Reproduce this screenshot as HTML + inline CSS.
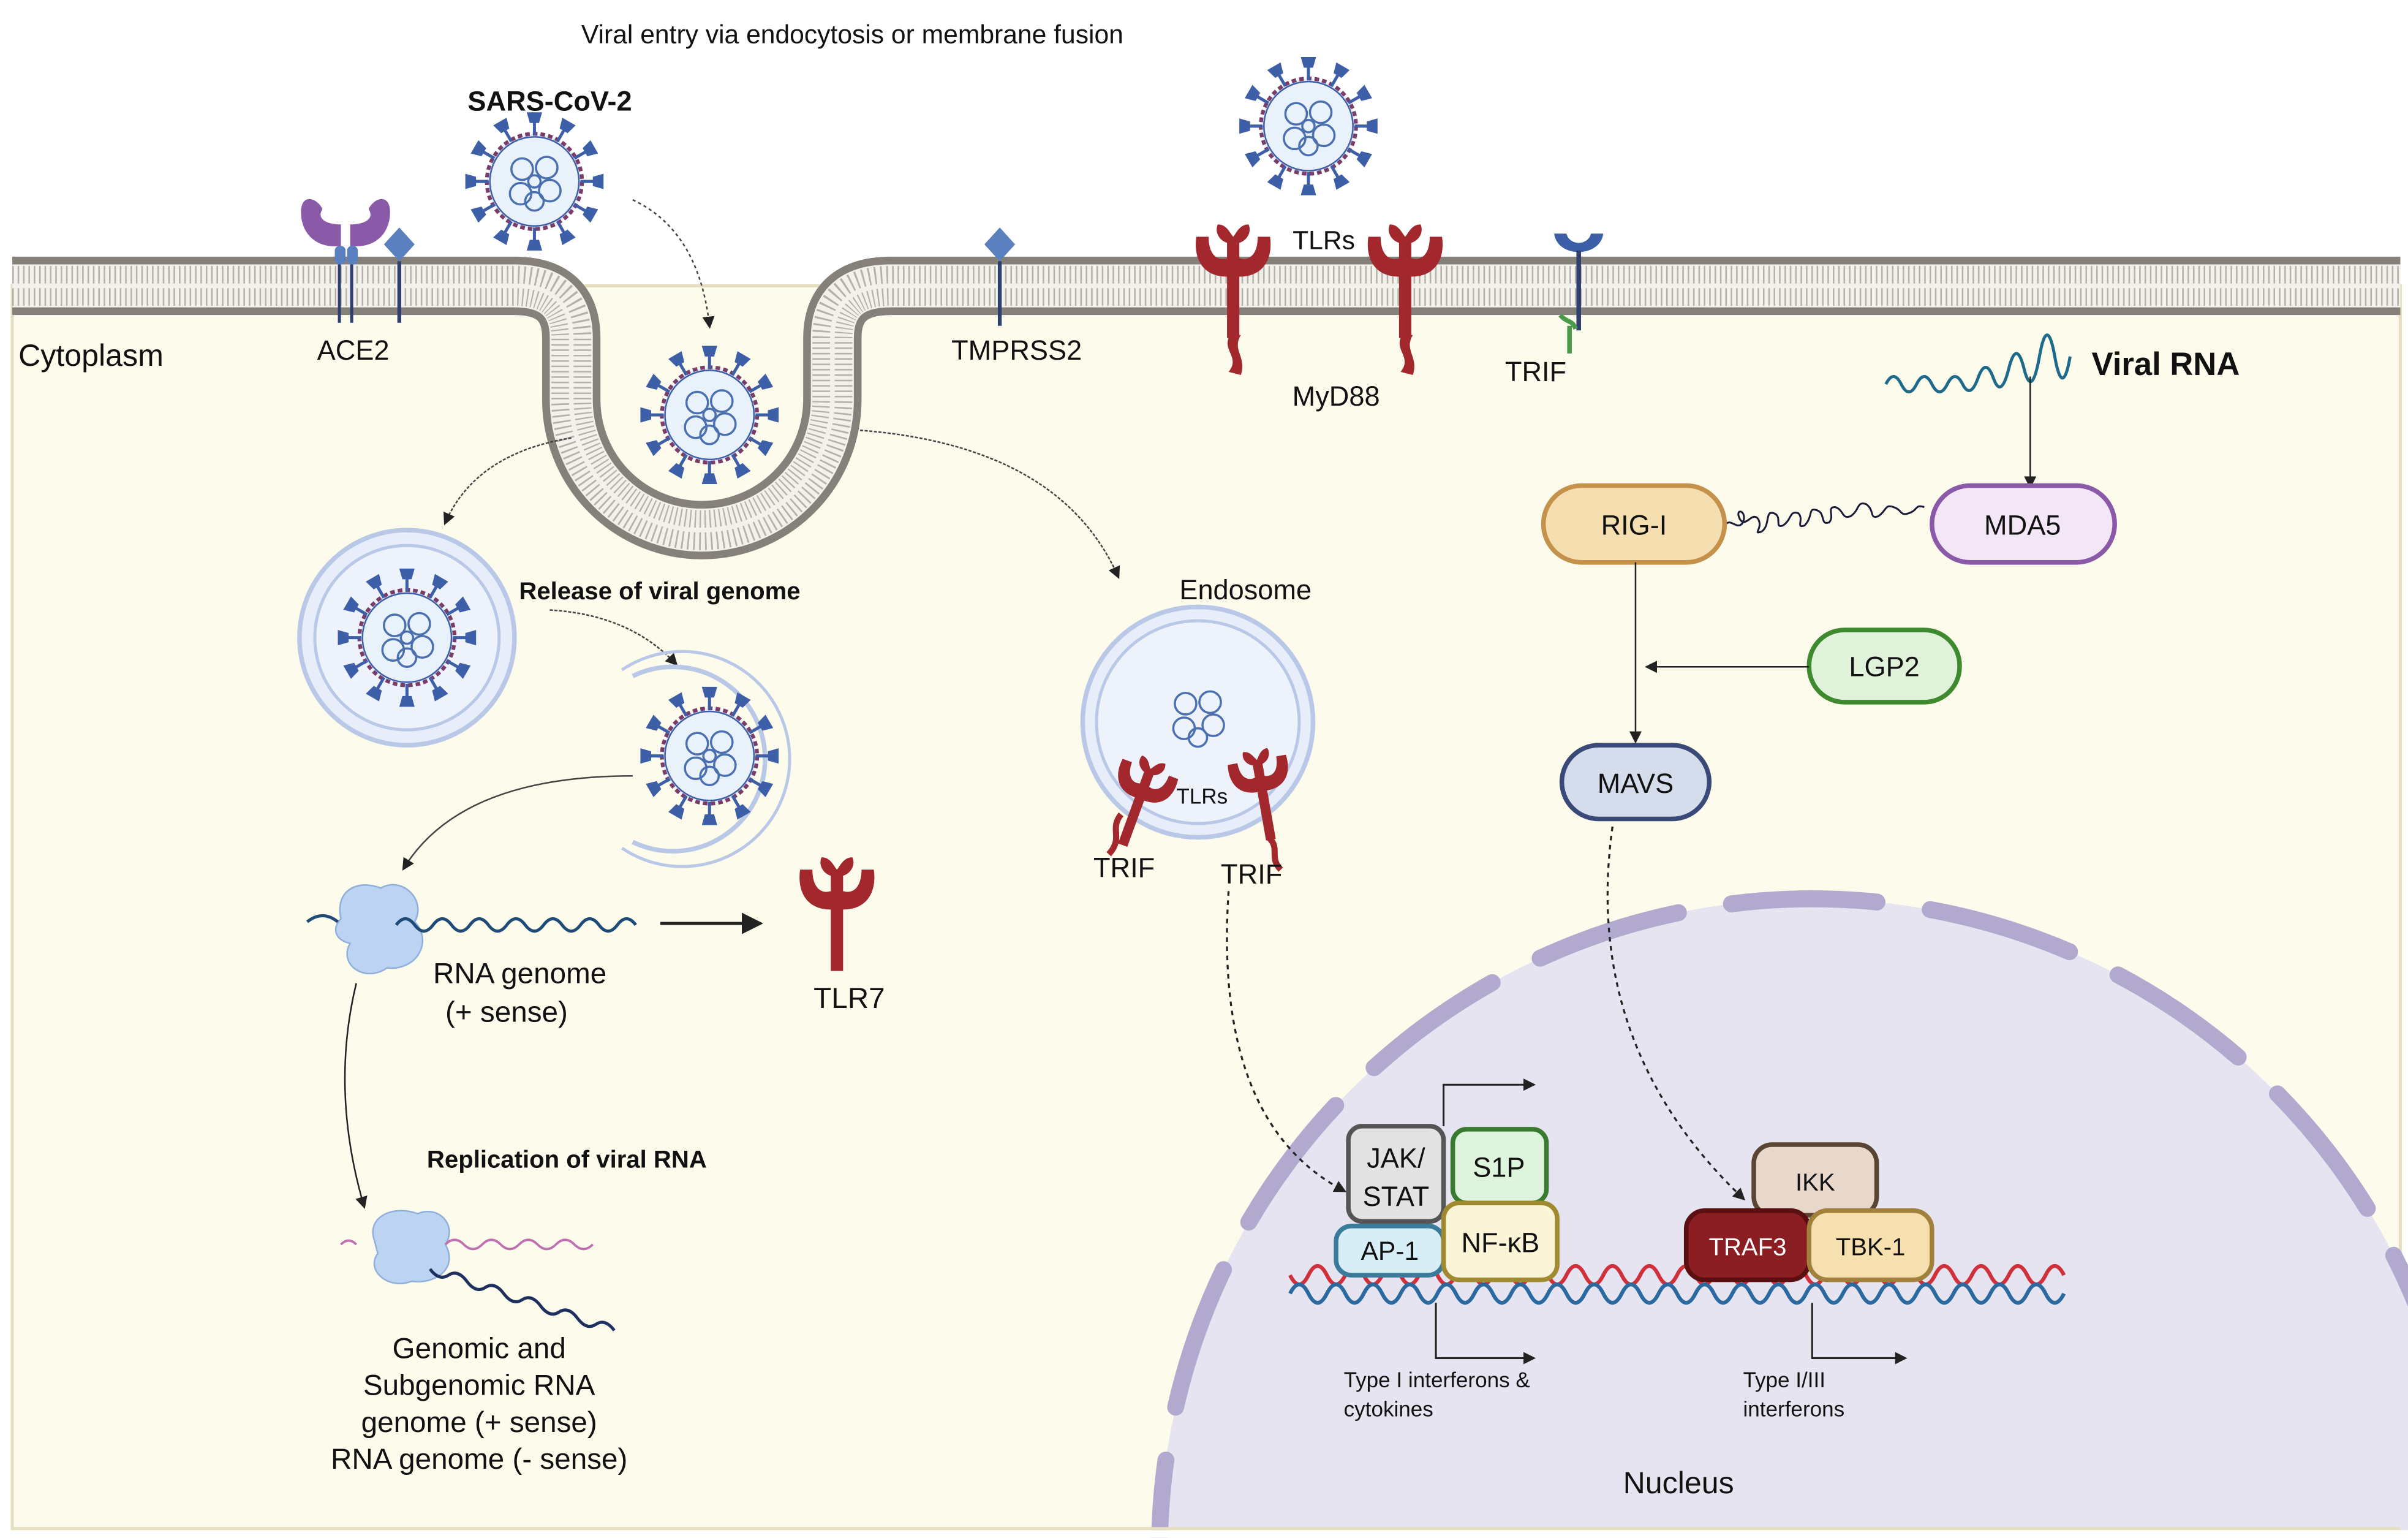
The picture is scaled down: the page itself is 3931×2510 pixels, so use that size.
<!DOCTYPE html>
<html><head><meta charset="utf-8"><style>
html,body{margin:0;padding:0;background:#fff;width:3931px;height:2510px;overflow:hidden;}
svg{display:block;}
text{font-family:"Liberation Sans",sans-serif;fill:#111;}
</style></head><body>
<svg width="3931" height="2510" viewBox="0 0 1568 1001" xmlns="http://www.w3.org/2000/svg">
<defs>
<marker id="ah" markerWidth="8" markerHeight="8" refX="6" refY="4" orient="auto" markerUnits="userSpaceOnUse"><path d="M0,0 L8,4 L0,8 z" fill="#222"/></marker>
<marker id="ahb" markerWidth="14" markerHeight="14" refX="12" refY="7" orient="auto" markerUnits="userSpaceOnUse"><path d="M0,0 L14,7 L0,14 z" fill="#222"/></marker>
<g id="spike"><line x1="0" y1="-30" x2="0" y2="-40" stroke="#3d5fa8" stroke-width="2"/><path d="M-5,-45 L5,-45 L3,-38 L-3,-38 z" fill="#3d5fa8"/></g>
<g id="virus">
<circle r="31" fill="#e9f1fb" stroke="#7a3d6a" stroke-width="2.5" stroke-dasharray="3 2"/>
<circle r="29" fill="none" stroke="#3d5fa8" stroke-width="1"/>
<use href="#spike" transform="rotate(0)"/><use href="#spike" transform="rotate(30)"/><use href="#spike" transform="rotate(60)"/><use href="#spike" transform="rotate(90)"/><use href="#spike" transform="rotate(120)"/><use href="#spike" transform="rotate(150)"/><use href="#spike" transform="rotate(180)"/><use href="#spike" transform="rotate(210)"/><use href="#spike" transform="rotate(240)"/><use href="#spike" transform="rotate(270)"/><use href="#spike" transform="rotate(300)"/><use href="#spike" transform="rotate(330)"/>
<g fill="none" stroke="#4a70b0" stroke-width="1.4">
<circle cx="-8" cy="-8" r="7"/><circle cx="8" cy="-9" r="7"/><circle cx="10" cy="6" r="7"/><circle cx="-9" cy="8" r="7"/><circle cx="0" cy="13" r="6"/><circle cx="0" cy="0" r="4"/>
</g></g>
<g id="tlr"><path d="M-4,40 L-4,0 C-20,0 -26,-12 -24,-26 L-16,-26 C-16,-14 -10,-10 -4,-12 L-4,-22 C-10,-24 -12,-30 -10,-34 C-4,-34 -2,-28 0,-26 C2,-28 4,-34 10,-34 C12,-30 10,-24 4,-22 L4,-12 C10,-10 16,-14 16,-26 L24,-26 C26,-12 20,0 4,0 L4,40 z" fill="#a3282e"/></g>
</defs>

<rect x="8" y="186" width="1555" height="809" fill="#fdfbec" stroke="#e6dfbf" stroke-width="2"/>
<path d="M8,186 H335 Q372,186 372,220 L372,260 A85,85 0 0 0 542,260 L542,220 Q542,186 580,186 H1563" fill="none" stroke="#858079" stroke-width="38"/>
<path d="M8,186 H335 Q372,186 372,220 L372,260 A85,85 0 0 0 542,260 L542,220 Q542,186 580,186 H1563" fill="none" stroke="#f3f1ec" stroke-width="28"/>
<path d="M8,186 H335 Q372,186 372,220 L372,260 A85,85 0 0 0 542,260 L542,220 Q542,186 580,186 H1563" fill="none" stroke="#b5b0a9" stroke-width="26" stroke-dasharray="1 2.5"/>
<path d="M8,186 H335 Q372,186 372,220 L372,260 A85,85 0 0 0 542,260 L542,220 Q542,186 580,186 H1563" fill="none" stroke="#f3f1ec" stroke-width="3"/>

<circle cx="1180" cy="1010" r="425" fill="#e7e4f1"/>
<circle cx="1180" cy="1010" r="425" fill="none" stroke="#b2a9cf" stroke-width="11" stroke-dasharray="95 35" stroke-linecap="round"/>
<rect x="0" y="996" width="1568" height="5" fill="#fff"/>
<line x1="8" y1="995" x2="1563" y2="995" stroke="#e6dfbf" stroke-width="2"/>

<text x="555" y="28" font-size="17" text-anchor="middle">Viral entry via endocytosis or membrane fusion</text>
<text x="358" y="72" font-size="18" font-weight="bold" text-anchor="middle">SARS-CoV-2</text>
<text x="12" y="238" font-size="20">Cytoplasm</text>
<text x="230" y="234" font-size="18" text-anchor="middle">ACE2</text>
<text x="662" y="234" font-size="18" text-anchor="middle">TMPRSS2</text>
<text x="862" y="162" font-size="17" text-anchor="middle">TLRs</text>
<text x="870" y="264" font-size="18" text-anchor="middle">MyD88</text>
<text x="1000" y="248" font-size="18" text-anchor="middle">TRIF</text>

<use href="#virus" transform="translate(348,118)"/>
<use href="#virus" transform="translate(852,82)"/>
<use href="#virus" transform="translate(462,270)"/>

<path d="M196,138 C196,126 206,128 210,136 C206,142 212,146 222,146 L222,160 C206,162 196,152 196,138 z" fill="#8a5aa8"/>
<path d="M254,138 C254,126 244,128 240,136 C244,142 238,146 228,146 L228,160 C244,162 254,152 254,138 z" fill="#8a5aa8"/>
<rect x="218" y="160" width="7" height="12" rx="3" fill="#5a80c0"/><rect x="226" y="160" width="7" height="12" rx="3" fill="#5a80c0"/>
<line x1="221" y1="172" x2="221" y2="210" stroke="#2e3f70" stroke-width="2"/><line x1="229" y1="172" x2="229" y2="210" stroke="#2e3f70" stroke-width="2"/>
<path d="M260,148 L270,159 L260,170 L250,159 z" fill="#5a80c0"/><line x1="260" y1="170" x2="260" y2="210" stroke="#2e3f70" stroke-width="2.5"/>
<path d="M651,148 L661,159 L651,170 L641,159 z" fill="#5a80c0"/><line x1="651" y1="170" x2="651" y2="212" stroke="#2e3f70" stroke-width="2.5"/>
<use href="#tlr" transform="translate(803,180)"/>
<path d="M801,218 C795,228 808,232 800,242 L808,244 C812,232 802,228 808,218 z" fill="#a3282e"/>
<use href="#tlr" transform="translate(915,180)"/>
<path d="M913,218 C907,228 920,232 912,242 L920,244 C924,232 914,228 920,218 z" fill="#a3282e"/>
<path d="M1012,152 C1014,168 1042,168 1044,152 L1036,152 C1034,160 1022,160 1020,152 z" fill="#3d5fa8"/>
<line x1="1028" y1="163" x2="1028" y2="215" stroke="#2e3f70" stroke-width="3"/>
<path d="M1022,212 L1022,230 M1016,205 C1020,210 1024,208 1026,214" stroke="#4a9a4a" stroke-width="3" fill="none"/>

<path d="M412,130 Q455,150 462,212" fill="none" stroke="#444" stroke-width="1" stroke-dasharray="2 2" marker-end="url(#ah)"/>
<path d="M372,285 Q310,295 290,340" fill="none" stroke="#444" stroke-width="1" stroke-dasharray="2 1" marker-end="url(#ah)"/>
<path d="M560,280 Q690,290 728,375" fill="none" stroke="#444" stroke-width="1" stroke-dasharray="2 1" marker-end="url(#ah)"/>

<circle cx="265" cy="415" r="70" fill="#e8eef9" stroke="#b8c8e6" stroke-width="3"/>
<circle cx="265" cy="415" r="60" fill="#edf2fb" stroke="#b8c8e6" stroke-width="2"/>
<use href="#virus" transform="translate(265,415)"/>
<text x="338" y="390" font-size="16" font-weight="bold">Release of viral genome</text>
<path d="M358,397 Q410,400 440,432" fill="none" stroke="#444" stroke-width="1" stroke-dasharray="2 1" marker-end="url(#ah)"/>
<path d="M412,440 A60,60 0 1 1 412,548" fill="none" stroke="#b8c8e6" stroke-width="3"/>
<path d="M405,436 A70,70 0 1 1 405,552" fill="none" stroke="#b8c8e6" stroke-width="2"/>
<use href="#virus" transform="translate(462,492)"/>
<path d="M412,505 Q300,505 263,565" fill="none" stroke="#444" stroke-width="1" marker-end="url(#ah)"/>

<path d="M222,598 C218,580 232,572 248,578 C262,570 278,586 270,600 C282,612 272,632 252,630 C238,640 220,628 228,614 C218,612 216,604 222,598 z" fill="#bcd4f2" stroke="#8eb0dc" stroke-width="1"/>
<path d="M200,600 Q210,592 220,600 M258,602 q6,-8 12,0 t12,0 t12,0 t12,0 t12,0 t12,0 t12,0 t12,0 t12,0 t12,0 t12,0 t12,0 t12,0" fill="none" stroke="#1e4a78" stroke-width="2"/>
<path d="M430,601 L495,601" stroke="#222" stroke-width="2" marker-end="url(#ahb)"/>
<use href="#tlr" transform="translate(545,592)"/>
<text x="553" y="656" font-size="19" text-anchor="middle">TLR7</text>
<text x="282" y="640" font-size="19">RNA genome</text>
<text x="290" y="665" font-size="19">(+ sense)</text>
<path d="M232,640 Q215,710 237,785" fill="none" stroke="#222" stroke-width="1" marker-end="url(#ah)"/>
<text x="278" y="760" font-size="16" font-weight="bold">Replication of viral RNA</text>
<path d="M244,808 C238,792 256,784 272,790 C286,784 298,798 290,810 C298,824 286,836 268,834 C252,840 238,826 246,816 z" fill="#bcd4f2" stroke="#8eb0dc" stroke-width="1"/>
<path d="M222,810 q5,-5 10,0 M290,810 q6,-6 12,0 t12,0 t12,0 t12,0 t12,0 t12,0 t12,0 t12,0" fill="none" stroke="#c070b0" stroke-width="1.5"/>
<path d="M280,826 q6,8 12,4 t12,4 t12,4 t12,4 t12,4 t12,4 t12,4 t12,4 t12,4 t12,4" fill="none" stroke="#1e3060" stroke-width="2"/>
<g font-size="19" text-anchor="middle">
<text x="312" y="884">Genomic and</text><text x="312" y="908">Subgenomic RNA</text><text x="312" y="932">genome (+ sense)</text><text x="312" y="956">RNA genome (- sense)</text></g>

<text x="768" y="390" font-size="18">Endosome</text>
<circle cx="780" cy="470" r="75" fill="#e8eef9" stroke="#b8c8e6" stroke-width="3"/>
<circle cx="780" cy="470" r="66" fill="#edf2fb" stroke="#b8c8e6" stroke-width="2"/>
<g fill="none" stroke="#4a70b0" stroke-width="1.4"><circle cx="772" cy="458" r="7"/><circle cx="788" cy="457" r="7"/><circle cx="790" cy="472" r="7"/><circle cx="771" cy="474" r="7"/><circle cx="780" cy="480" r="6"/></g>
<use href="#tlr" transform="translate(742,520) rotate(20) scale(0.8)"/>
<path d="M730,530 C722,540 732,545 722,556" stroke="#a3282e" stroke-width="4" fill="none"/>
<use href="#tlr" transform="translate(822,515) rotate(-10) scale(0.8)"/>
<path d="M826,545 C834,552 826,558 834,566" stroke="#a3282e" stroke-width="4" fill="none"/>
<text x="766" y="523" font-size="14">TLRs</text>
<text x="712" y="571" font-size="18">TRIF</text>
<text x="795" y="575" font-size="18">TRIF</text>
<path d="M800,580 Q790,730 875,775" fill="none" stroke="#222" stroke-width="1.3" stroke-dasharray="3 3" marker-end="url(#ah)"/>

<path d="M1228,250 q5,-10 10,0 t10,0 t10,0 t10,0 t10,0 t10,-4 t10,0 t10,-6 t10,0 t10,-8 t10,0 t10,0" fill="none" stroke="#1e6a8a" stroke-width="2"/>
<text x="1362" y="244" font-size="21" font-weight="bold">Viral RNA</text>
<line x1="1322" y1="245" x2="1322" y2="316" stroke="#222" stroke-width="1" marker-end="url(#ah)"/>
<path d="M1123,342 c4,-6 8,4 12,-2 c3,-8 -6,-10 -2,-2 c4,6 8,-6 12,0 c3,6 -4,10 2,8 c6,-4 2,-14 8,-12 c6,2 0,10 6,8 c6,-4 4,-10 10,-8 c4,4 -2,10 4,8 c6,-6 2,-12 8,-10 c6,2 2,10 8,8 c4,-4 -2,-10 4,-10 c6,2 4,8 10,6 c6,-4 4,-10 10,-8 c6,4 2,10 8,8 c6,-4 4,-8 10,-6 c6,2 4,6 10,4 c6,-2 4,-6 10,-4" fill="none" stroke="#1a1a3a" stroke-width="1.2"/>
<rect x="1005" y="316" width="118" height="50" rx="25" fill="#f5deb0" stroke="#c4924a" stroke-width="3"/>
<text x="1064" y="348" font-size="18" text-anchor="middle">RIG-I</text>
<rect x="1258" y="316" width="119" height="50" rx="25" fill="#f3e6f6" stroke="#8a5aa8" stroke-width="3"/>
<text x="1317" y="348" font-size="18" text-anchor="middle">MDA5</text>
<line x1="1065" y1="366" x2="1065" y2="482" stroke="#222" stroke-width="1" marker-end="url(#ah)"/>
<rect x="1178" y="410" width="98" height="47" rx="23" fill="#e0f2da" stroke="#3e8a2e" stroke-width="3"/>
<text x="1227" y="440" font-size="18" text-anchor="middle">LGP2</text>
<line x1="1178" y1="434" x2="1073" y2="434" stroke="#222" stroke-width="1" marker-end="url(#ah)"/>
<rect x="1017" y="485" width="96" height="48" rx="24" fill="#d5dcec" stroke="#3a4a78" stroke-width="3"/>
<text x="1065" y="516" font-size="18" text-anchor="middle">MAVS</text>
<path d="M1050,538 Q1030,680 1135,780" fill="none" stroke="#222" stroke-width="1.3" stroke-dasharray="3 3" marker-end="url(#ah)"/>

<path d="M840,830 q6,12 12,0 t12,0 t12,0 t12,0 t12,0 t12,0 t12,0 t12,0 t12,0 t12,0 t12,0 t12,0 t12,0 t12,0 t12,0 t12,0 t12,0 t12,0 t12,0 t12,0 t12,0 t12,0 t12,0 t12,0 t12,0 t12,0 t12,0 t12,0 t12,0 t12,0 t12,0 t12,0 t12,0 t12,0 t12,0 t12,0 t12,0 t12,0 t12,0 t12,0 t12,0 t12,0" fill="none" stroke="#d0303a" stroke-width="2.5"/>
<path d="M840,842 q6,-12 12,0 t12,0 t12,0 t12,0 t12,0 t12,0 t12,0 t12,0 t12,0 t12,0 t12,0 t12,0 t12,0 t12,0 t12,0 t12,0 t12,0 t12,0 t12,0 t12,0 t12,0 t12,0 t12,0 t12,0 t12,0 t12,0 t12,0 t12,0 t12,0 t12,0 t12,0 t12,0 t12,0 t12,0 t12,0 t12,0 t12,0 t12,0 t12,0 t12,0 t12,0 t12,0" fill="none" stroke="#2a6aa0" stroke-width="2.5"/>

<path d="M940,733 L940,706 L998,706" fill="none" stroke="#222" stroke-width="1.2" marker-end="url(#ah)"/>
<rect x="878" y="733" width="62" height="62" rx="9" fill="#e2e2e2" stroke="#555" stroke-width="3"/>
<text x="909" y="760" font-size="18" text-anchor="middle">JAK/</text><text x="909" y="785" font-size="18" text-anchor="middle">STAT</text>
<rect x="946" y="735" width="61" height="48" rx="9" fill="#dff4dc" stroke="#3a7a2e" stroke-width="3"/>
<text x="976" y="766" font-size="18" text-anchor="middle">S1P</text>
<rect x="870" y="798" width="70" height="32" rx="10" fill="#d8eef6" stroke="#3a7a9a" stroke-width="3"/>
<text x="905" y="820" font-size="17" text-anchor="middle">AP-1</text>
<rect x="940" y="783" width="74" height="50" rx="10" fill="#fbf5d8" stroke="#a08a30" stroke-width="3"/>
<text x="977" y="815" font-size="18" text-anchor="middle">NF-κB</text>
<path d="M935,848 L935,884 L998,884" fill="none" stroke="#222" stroke-width="1.2" marker-end="url(#ah)"/>
<text x="875" y="903" font-size="14">Type I interferons &amp;</text><text x="875" y="922" font-size="14">cytokines</text>

<rect x="1142" y="745" width="80" height="46" rx="12" fill="#e8d8cc" stroke="#5a4434" stroke-width="3"/>
<text x="1182" y="775" font-size="16" text-anchor="middle">IKK</text>
<rect x="1098" y="788" width="80" height="45" rx="12" fill="#8a1e22" stroke="#5a1010" stroke-width="3"/>
<text x="1138" y="817" font-size="16" text-anchor="middle" style="fill:#fff">TRAF3</text>
<rect x="1178" y="788" width="80" height="45" rx="12" fill="#f6e0b0" stroke="#a0803a" stroke-width="3"/>
<text x="1218" y="817" font-size="16" text-anchor="middle">TBK-1</text>
<path d="M1180,848 L1180,884 L1240,884" fill="none" stroke="#222" stroke-width="1.2" marker-end="url(#ah)"/>
<text x="1135" y="903" font-size="14">Type I/III</text><text x="1135" y="922" font-size="14">interferons</text>
<text x="1093" y="972" font-size="20" text-anchor="middle">Nucleus</text>
</svg>
</body></html>
